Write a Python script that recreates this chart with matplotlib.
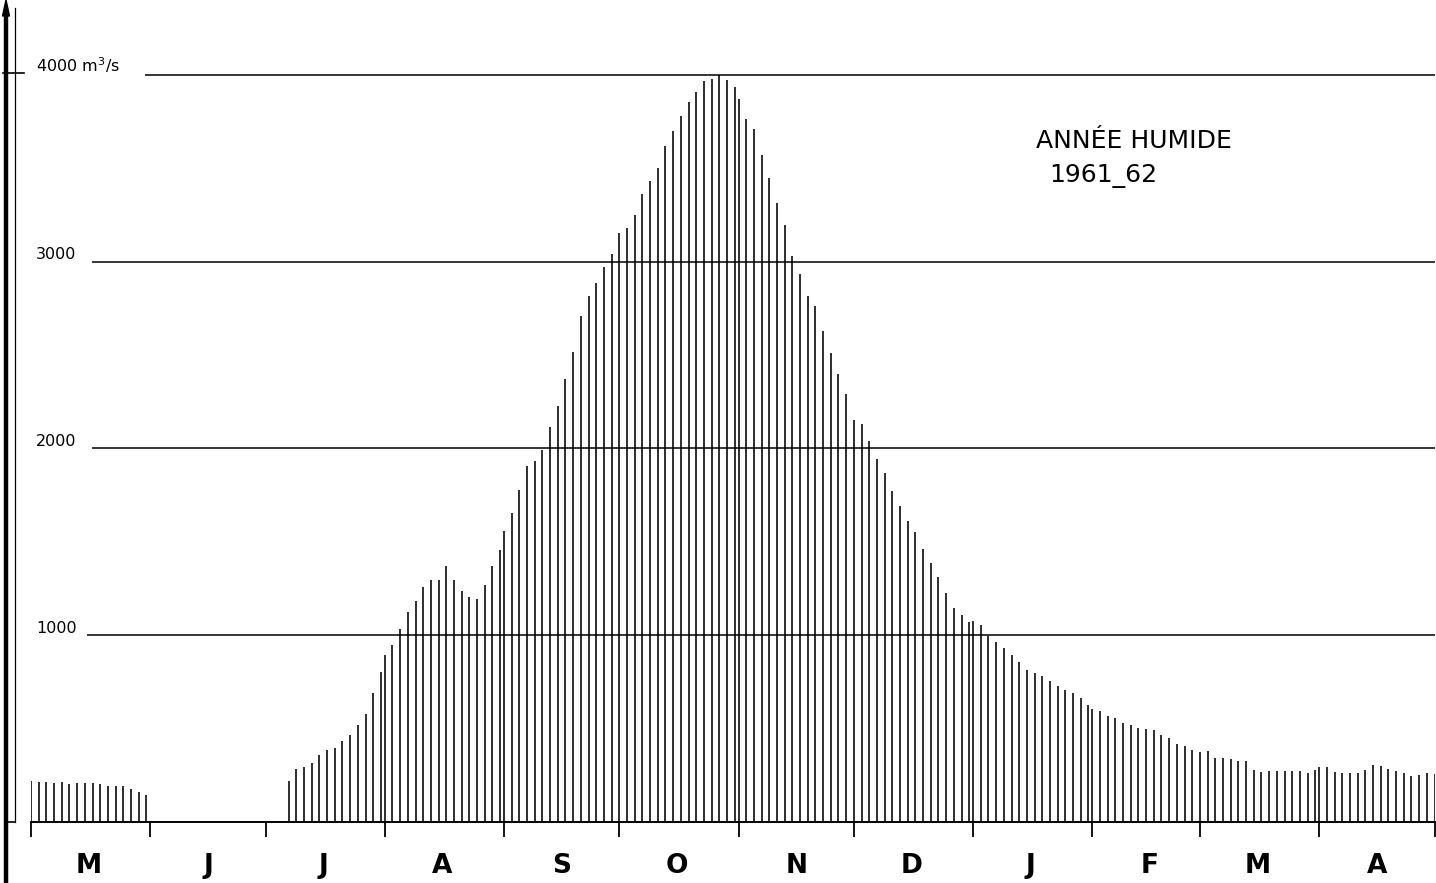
import matplotlib
matplotlib.use("Agg")
import matplotlib.pyplot as plt
import numpy as np

# hydrological year May 1961 - April 1962, one reading every other day (m3/s)
months = ['M', 'J', 'J', 'A', 'S', 'O', 'N', 'D', 'J', 'F', 'M', 'A']
month_len = [31, 30, 31, 31, 30, 31, 30, 31, 31, 28, 31, 30]
first_day = [1, None, 7, 1, 1, 1, 1, 1, 1, 1, 1, 1]   # first day with a reading

q_may = [218, 214, 214, 210, 213, 205, 207, 209, 207, 202, 193, 194, 193, 175, 159, 146]
q_jun = []
q_jul = [220, 285, 295, 318, 358, 388, 396, 435, 464, 521, 578, 689, 801]
q_aug = [892, 948, 1033, 1126, 1185, 1256, 1294, 1296, 1370, 1294, 1235, 1203, 1194, 1270, 1369, 1458]
q_sep = [1560, 1654, 1777, 1908, 1931, 1991, 2114, 2226, 2371, 2515, 2710, 2815, 2884, 2973, 3043]
q_oct = [3155, 3183, 3251, 3363, 3432, 3503, 3621, 3701, 3781, 3854, 3909, 3970, 3980, 4000, 3971, 3936]
q_nov = [3873, 3764, 3712, 3571, 3450, 3316, 3196, 3030, 2932, 2814, 2762, 2628, 2512, 2400, 2293]
q_dec = [2153, 2129, 2041, 1943, 1869, 1770, 1693, 1612, 1555, 1461, 1388, 1314, 1227, 1146, 1106, 1071]
q_jan = [1074, 1057, 998, 966, 934, 894, 858, 812, 796, 782, 753, 726, 706, 692, 663, 629]
q_feb = [607, 593, 566, 555, 528, 521, 506, 496, 490, 467, 449, 420, 405, 384]
q_mar = [375, 378, 344, 344, 335, 328, 328, 280, 267, 273, 272, 272, 273, 272, 260, 278]
q_apr = [296, 294, 267, 262, 264, 264, 280, 305, 301, 285, 273, 264, 248, 250, 260, 258]
q_all = [q_may, q_jun, q_jul, q_aug, q_sep, q_oct, q_nov, q_dec, q_jan, q_feb, q_mar, q_apr]

grid_levels = [1000, 2000, 3000, 4000]
grid_labels = ['1000', '2000', '3000', '4000 m$^{3}$/s']
grid_start = [14.6, 15.9, 15.9, 29.6]   # days, lines begin after the label

month_start = np.concatenate([[0], np.cumsum(month_len)[:-1]])
year_len = sum(month_len)

days, flow = [], []
for start, d0, q in zip(month_start, first_day, q_all):
    for i, v in enumerate(q):
        days.append(start + d0 - 1 + 2 * i)
        flow.append(v)
days = np.array(days)
flow = np.array(flow)

W, H = 1436, 883
fig = plt.figure(figsize=(W / 100, H / 100), dpi=100)
fig.patch.set_facecolor('white')

# plot area: baseline at y=822 px, 1000 m3/s = 186.75 px
ax = fig.add_axes([31 / W, (H - 822) / H, 1403.5 / W, 822 / H])
ax.set_xlim(0, year_len)
ax.set_ylim(0, 822 / 0.18675)

ax.vlines(days, 0, flow, color='black', lw=1.15)

for lev, lab, x0 in zip(grid_levels, grid_labels, grid_start):
    ax.hlines(lev, x0, year_len, color='black', lw=1.1)
    ax.text(1.3, lev + 14, lab, fontsize=11.5, ha='left', va='baseline',
            family='DejaVu Sans', color='black')

for s in ['top', 'right', 'left']:
    ax.spines[s].set_visible(False)
ax.spines['bottom'].set_linewidth(1.4)
ax.set_yticks([])

ax.set_xticks(list(month_start) + [year_len])
ax.set_xticks(month_start + 15, minor=True)
ax.set_xticklabels([])
ax.set_xticklabels(months, minor=True, fontsize=19, fontweight='bold', family='DejaVu Sans')
ax.tick_params(axis='x', which='major', direction='out', length=11, width=1.3, color='black')
ax.tick_params(axis='x', which='minor', length=0, pad=22)

ax.text(0.786, 0.82, 'ANNÉE HUMIDE', transform=ax.transAxes, fontsize=18,
        ha='center', va='baseline', family='DejaVu Sans')
ax.text(0.764, 0.778, '1961_62', transform=ax.transAxes, fontsize=18,
        ha='center', va='baseline', family='DejaVu Sans')

# left ordinate: heavy arrowed rule with a thin inner rule
deco = fig.add_axes([0, 0, 1, 1])
deco.set_xlim(0, W)
deco.set_ylim(H, 0)
deco.axis('off')
deco.plot([6, 6], [12, H], color='black', lw=3.2, solid_capstyle='butt')
deco.fill([2.5, 9.5, 6], [16, 16, 0], color='black')
deco.plot([15, 15], [8, 822], color='black', lw=0.9)
deco.plot([6, 15], [822, 822], color='black', lw=1.2)
deco.plot([3, 24], [73, 73], color='black', lw=1.2)

fig.savefig('out.png', dpi=100, facecolor='white')
